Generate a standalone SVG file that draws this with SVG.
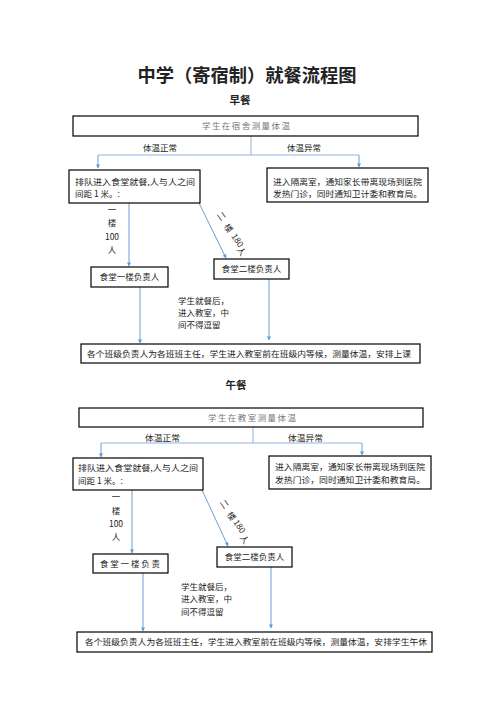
<svg xmlns="http://www.w3.org/2000/svg" width="496" height="702" viewBox="0 0 496 702">
<defs>
<marker id="ah" viewBox="0 0 10 10" refX="9" refY="5" markerWidth="4" markerHeight="4" orient="auto">
<path d="M0,0 L10,5 L0,10 z" fill="#5b9bd5"/>
</marker>
<style>
text{font-family:"Noto Sans CJK SC","Liberation Sans",sans-serif;fill:#222;}
.box{fill:#fff;stroke:#000;stroke-width:1.2;}
.t{font-size:8.5px;}
.g{font-size:8.5px;fill:#777;}
.h{font-weight:bold;}
.ln{fill:none;stroke:#8bb5dd;stroke-width:1;}
.ar{fill:none;stroke:#6a9fd3;stroke-width:1;marker-end:url(#ah);}
</style>
</defs>
<rect width="496" height="702" fill="#fff"/>
<g id="title">
<text x="247" y="82" font-size="18" class="h" text-anchor="middle" textLength="219" lengthAdjust="spacingAndGlyphs">中学（寄宿制）就餐流程图</text>
<text x="240" y="104" font-size="10.5" class="h" text-anchor="middle">早餐</text>
<text x="236" y="389" font-size="10.5" class="h" text-anchor="middle">午餐</text>
</g>
<g id="connectors">
<!-- breakfast -->
<line class="ln" x1="251" y1="136" x2="251" y2="155"/>
<line class="ln" x1="98" y1="155" x2="359" y2="155"/>
<line class="ar" x1="98" y1="155" x2="98" y2="168"/>
<line class="ar" x1="359" y1="155" x2="359" y2="167"/>
<line class="ar" x1="129" y1="203" x2="129" y2="266"/>
<line class="ar" x1="199" y1="203" x2="226" y2="258"/>
<line class="ar" x1="140" y1="287" x2="140" y2="343"/>
<line class="ar" x1="269" y1="279" x2="269" y2="340"/>
<!-- lunch -->
<line class="ln" x1="253" y1="427" x2="253" y2="443"/>
<line class="ln" x1="101" y1="443" x2="362" y2="443"/>
<line class="ar" x1="101" y1="443" x2="101" y2="457"/>
<line class="ar" x1="362" y1="443" x2="362" y2="455"/>
<line class="ar" x1="132" y1="490" x2="132" y2="553"/>
<line class="ar" x1="202" y1="490" x2="228" y2="546"/>
<line class="ar" x1="143" y1="573" x2="143" y2="631"/>
<line class="ar" x1="271" y1="567" x2="271" y2="628"/>
</g>
<g id="labels">
<text class="t" x="143" y="151" textLength="34" lengthAdjust="spacingAndGlyphs">体温正常</text>
<text class="t" x="287" y="151" textLength="34" lengthAdjust="spacingAndGlyphs">体温异常</text>
<text class="t" x="112" y="213" text-anchor="middle">一</text>
<text class="t" x="112" y="226" text-anchor="middle">楼</text>
<text class="t" x="112" y="240" text-anchor="middle">100</text>
<text class="t" x="112" y="253" text-anchor="middle">人</text>
<text class="t" transform="translate(219,218) rotate(55)" text-anchor="middle">二</text>
<text class="t" transform="translate(226,230) rotate(55)" text-anchor="middle">楼</text>
<text class="t" transform="translate(235,242) rotate(55)" text-anchor="middle">180</text>
<text class="t" transform="translate(239,253) rotate(55)" text-anchor="middle">人</text>
<text class="t" x="178" y="304">学生就餐后，</text>
<text class="t" x="178" y="316">进入教室，中</text>
<text class="t" x="178" y="328">间不得逗留</text>

<text class="t" x="145" y="441" textLength="35" lengthAdjust="spacingAndGlyphs">体温正常</text>
<text class="t" x="288" y="441" textLength="35" lengthAdjust="spacingAndGlyphs">体温异常</text>
<text class="t" x="116" y="500" text-anchor="middle">一</text>
<text class="t" x="116" y="514" text-anchor="middle">楼</text>
<text class="t" x="116" y="527" text-anchor="middle">100</text>
<text class="t" x="116" y="540" text-anchor="middle">人</text>
<text class="t" transform="translate(222,506) rotate(55)" text-anchor="middle">二</text>
<text class="t" transform="translate(229,518) rotate(55)" text-anchor="middle">楼</text>
<text class="t" transform="translate(237,528) rotate(55)" text-anchor="middle">180</text>
<text class="t" transform="translate(242,541) rotate(55)" text-anchor="middle">人</text>
<text class="t" x="181" y="590">学生就餐后，</text>
<text class="t" x="181" y="602">进入教室，中</text>
<text class="t" x="181" y="615">间不得逗留</text>
</g>
<g id="b-start">
<rect class="box" x="73" y="116" width="345" height="20"/>
<text class="g" x="246" y="129" text-anchor="middle" textLength="88" lengthAdjust="spacing">学生在宿舍测量体温</text>
</g>
<g id="b-queue">
<rect class="box" x="69" y="170" width="131" height="33"/>
<text class="t" x="75" y="185" textLength="120" lengthAdjust="spacingAndGlyphs">排队进入食堂就餐,人与人之间</text>
<text class="t" x="75" y="197">间距 1 米。:</text>
</g>
<g id="b-iso">
<rect class="box" x="267" y="168" width="161" height="34"/>
<text class="t" x="273" y="185" textLength="149" lengthAdjust="spacingAndGlyphs">进入隔离室，通知家长带离现场到医院</text>
<text class="t" x="273" y="197" textLength="149" lengthAdjust="spacingAndGlyphs">发热门诊，同时通知卫计委和教育局。</text>
</g>
<g id="b-f1">
<rect class="box" x="91" y="267" width="77" height="20"/>
<text class="t" x="129.5" y="280" text-anchor="middle">食堂一楼负责人</text>
</g>
<g id="b-f2">
<rect class="box" x="214" y="259" width="75" height="20"/>
<text class="t" x="251.5" y="272" text-anchor="middle">食堂二楼负责人</text>
</g>
<g id="b-end">
<rect class="box" x="81" y="344" width="339" height="19"/>
<text class="t" x="87" y="357" textLength="324" lengthAdjust="spacingAndGlyphs">各个班级负责人为各班班主任，学生进入教室前在班级内等候，测量体温，安排上课</text>
</g>
<g id="l-start">
<rect class="box" x="79" y="408" width="344" height="19"/>
<text class="g" x="252" y="421" text-anchor="middle" textLength="88" lengthAdjust="spacing">学生在教室测量体温</text>
</g>
<g id="l-queue">
<rect class="box" x="73" y="458" width="130" height="32"/>
<text class="t" x="78" y="471" textLength="120" lengthAdjust="spacingAndGlyphs">排队进入食堂就餐,人与人之间</text>
<text class="t" x="78" y="484">间距 1 米。:</text>
</g>
<g id="l-iso">
<rect class="box" x="269" y="456" width="162" height="33"/>
<text class="t" x="275" y="470" textLength="150" lengthAdjust="spacingAndGlyphs">进入隔离室，通知家长带离现场到医院</text>
<text class="t" x="275" y="483" textLength="150" lengthAdjust="spacingAndGlyphs">发热门诊，同时通知卫计委和教育局。</text>
</g>
<g id="l-f1">
<rect class="box" x="93" y="554" width="75" height="19"/>
<text class="t" x="100" y="567" textLength="60" lengthAdjust="spacing">食堂一楼负责</text>
</g>
<g id="l-f2">
<rect class="box" x="217" y="547" width="75" height="20"/>
<text class="t" x="254.5" y="560" text-anchor="middle">食堂二楼负责人</text>
</g>
<g id="l-end">
<rect class="box" x="77" y="632" width="355" height="20"/>
<text class="t" x="85" y="645" textLength="342" lengthAdjust="spacingAndGlyphs">各个班级负责人为各班班主任，学生进入教室前在班级内等候，测量体温，安排学生午休</text>
</g>
</svg>
